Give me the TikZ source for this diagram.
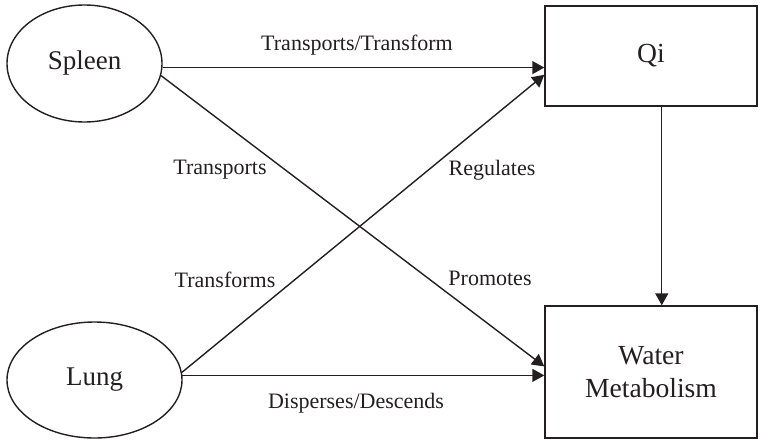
\documentclass[tikz,border=0pt]{standalone}
\usepackage{fontspec}
\setmainfont{Liberation Serif}
\usepackage{tikz}
\usetikzlibrary{shapes,arrows.meta}
\definecolor{inkgray}{HTML}{231F20}
\tikzstyle{organ}=[ellipse, draw=inkgray, line width=0.7pt, inner sep=0pt, font=\fontsize{13.5}{16.5}\selectfont, text=inkgray]
\tikzstyle{target}=[rectangle, draw=inkgray, line width=0.7pt, inner sep=0pt, align=center, font=\fontsize{13.8}{16.5}\selectfont, text=inkgray]
\tikzstyle{flow}=[draw=inkgray, line width=0.7pt, -{Triangle[length=6pt,width=6.5pt]}]
\tikzstyle{lbl}=[inner sep=1pt, font=\fontsize{11}{13}\selectfont, text=inkgray]

\begin{document}
\begin{tikzpicture}[x=0.5pt,y=-0.5pt]
	\useasboundingbox (0,0) rectangle (770,439);
	\node[organ, minimum width=77.5pt, minimum height=58.5pt] (Spleen) at (84.5,63.5) {Spleen};
	\node[organ, minimum width=87.5pt, minimum height=58pt] (Lung) at (94.5,380) {Lung};
	\node[target, minimum width=106pt, minimum height=50pt] (Qi) at (651,56) {Qi};
	\node[target, minimum width=106pt, minimum height=66pt] (Water) at (651,372) {Water\\Metabolism};
	\draw[flow] (Spleen.357) -- (Spleen.357 -| Qi.west);
	\draw[flow] (Spleen.351) -- (Water.177);
	\draw[flow] (Lung.5) -- (Qi.190);
	\draw[flow] (Lung.3) -- (Lung.3 -| Water.west);
	\draw[flow] (Qi.282) -- (Qi.282 |- Water.north);
	\node[lbl] (tt) at (357,45) {Transports/Transform};
	\node[lbl] (tr) at (220,170) {Transports};
	\node[lbl] (rg) at (492,170) {Regulates};
	\node[lbl] (tf) at (225,280) {Transforms};
	\node[lbl] (pr) at (490,278) {Promotes};
	\node[lbl] (dd) at (356,403) {Disperses/Descends};
\end{tikzpicture}
\end{document}
